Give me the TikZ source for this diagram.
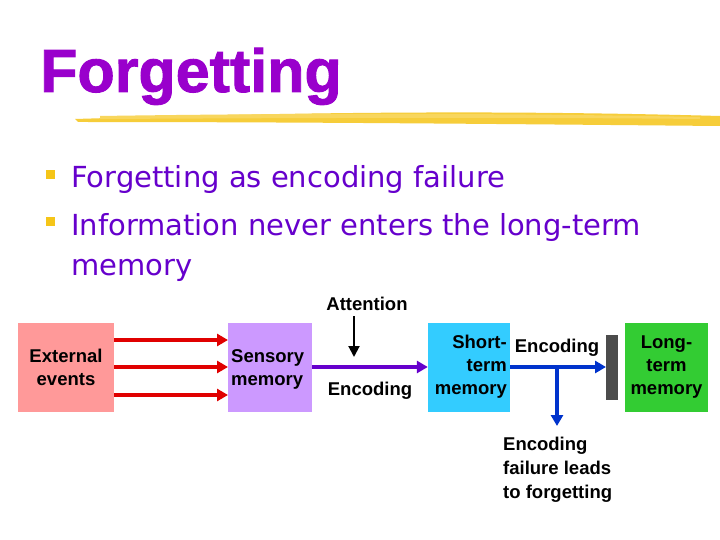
\documentclass[tikz,border=0pt]{standalone}
\usepackage{fontspec}
\setmainfont{Liberation Sans}
\newfontfamily\bulletfont{DejaVu Sans}
\newfontfamily\titlefont[UprightFont=*-Bold,FakeBold=1.5]{Liberation Sans}
\usetikzlibrary{arrows.meta}
\definecolor{ttl}{HTML}{9900CC}
\definecolor{btxt}{HTML}{6600CC}
\definecolor{ext}{HTML}{FF9999}
\definecolor{sens}{HTML}{CC99FF}
\definecolor{stm}{HTML}{33CCFF}
\definecolor{ltm}{HTML}{33CC33}
\definecolor{yel}{HTML}{F5C518}
\definecolor{arr}{HTML}{E00000}
\definecolor{purp}{HTML}{6600CC}
\definecolor{blu}{HTML}{0033CC}
\begin{document}
\begin{tikzpicture}[x=1pt,y=-1pt,
  box/.style={minimum width=#1, minimum height=89pt, inner sep=0pt, align=center, font=\bfseries\fontsize{18.5}{23}\selectfont},
  lbl/.style={font=\bfseries\fontsize{18.5}{23}\selectfont, inner sep=0pt},
  con/.style={line width=3.5pt,-{Triangle[length=11pt,width=12pt]}}]
\useasboundingbox[fill=white] (0,0) rectangle (720,540);
\node[anchor=base west, text=ttl, font=\titlefont\fontsize{61}{66}\selectfont, inner sep=0pt] (title) at (40,92) {Forgetting};
\fill[yel, opacity=0.85] (75,119) .. controls (300,112) and (500,110) .. (720,116) -- (720,126) .. controls (500,124) and (300,122) .. (78,122) -- cycle;
\fill[yel!70!white] (100,116) .. controls (300,113) and (500,113) .. (700,117) -- (700,119) .. controls (500,117) and (300,118) .. (100,119) -- cycle;
\fill[yel] (46,170) rectangle (55,179) coordinate (b1);
\fill[yel] (46,217) rectangle (55,226) coordinate (b2);
\node[anchor=base west, text=btxt, font=\bulletfont\fontsize{29}{38}\selectfont, inner sep=0pt] (t1) at (71,188) {Forgetting as encoding failure};
\node[anchor=base west, text=btxt, font=\bulletfont\fontsize{29}{38}\selectfont, inner sep=0pt, align=left] (t2) at (71,236) {Information never enters the long-term};
\node[anchor=base west, text=btxt, font=\bulletfont\fontsize{29}{38}\selectfont, inner sep=0pt] (t3) at (71,275) {memory};
\node[box=96pt, fill=ext] (ext) at (66,367.5) {External\\events};
\node[box=84pt, fill=sens] (sens) at (270,367.5) {};
\node[box=82pt, fill=stm] (stm) at (469,367.5) {};
\node[box=83pt, fill=ltm] (ltm) at (666.5,367.5) {Long-\\term\\memory};
\fill[gray!60!black] (606,335) rectangle (618,400);
\coordinate (bar) at (606,367);
\node[lbl, align=left, anchor=west] (senst) at (231,369) {Sensory\\memory};
\node[lbl, align=right, anchor=north east] (stmt) at (507,335) {Short-\\term\\memory};
\node[lbl, anchor=base] (att) at (367,310) {Attention};
\node[lbl, anchor=base] (enc1) at (370,395) {Encoding};
\node[lbl, anchor=base] (enc2) at (557,352) {Encoding};
\node[lbl, align=left, anchor=north west, font=\bfseries\fontsize{18.5}{24}\selectfont] (fail) at (503,437) {Encoding\\failure leads\\to forgetting};
\foreach \yy in {340,367,395}
  \draw[con, arr] (114,\yy) -- (228,\yy);
\draw[con, purp] (312,367) -- (stm.west |- 0,367);
\coordinate (a1) at (354,316);
\draw[line width=2pt, -{Triangle[length=11pt,width=11pt]}] (a1) -- (354,357);
\draw[con, blu] (510,367) -- (bar);
\coordinate (split) at (557,367);
\draw[con, blu] (split) -- (557,426);
\end{tikzpicture}
\end{document}
